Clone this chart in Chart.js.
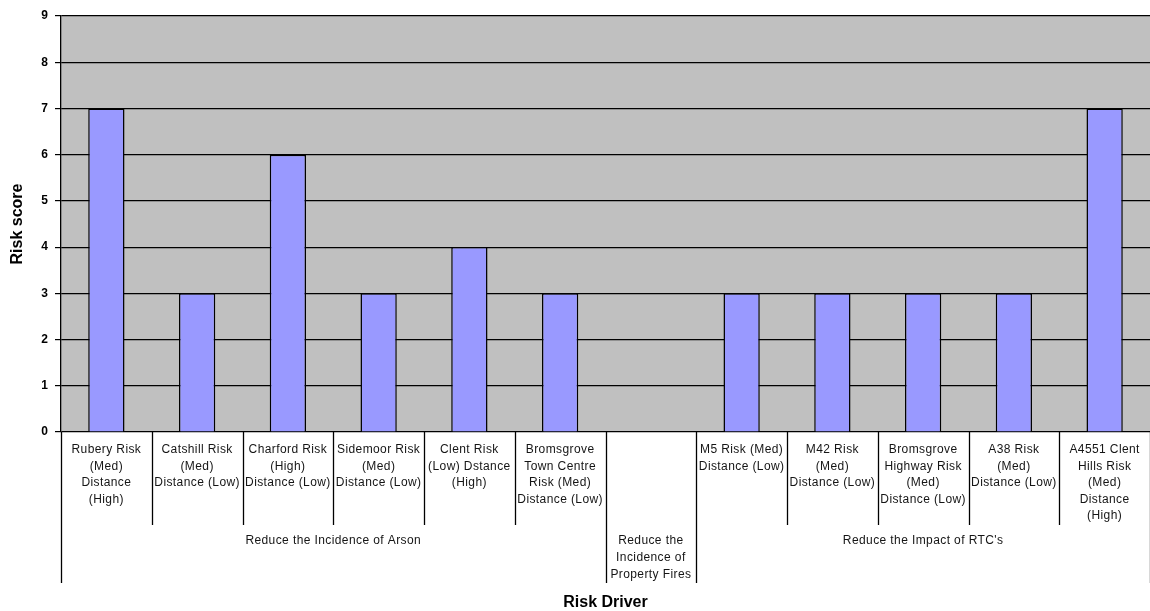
<!DOCTYPE html>
<html>
<head>
<meta charset="utf-8">
<script src="https://cdn.jsdelivr.net/npm/chart.js@4/dist/chart.umd.min.js"></script>
<style>
  html, body { margin: 0; padding: 0; background: #fff; }
  #wrap { width: 1150px; height: 611px; position: relative; }
</style>
</head>
<body>
<div id="wrap"><canvas id="riskChart"></canvas></div>
<script>
"use strict";

// categories (each one a list of text lines)
let categories = [
  ['Rubery Risk', '(Med)', 'Distance', '(High)'],
  ['Catshill Risk', '(Med)', 'Distance (Low)'],
  ['Charford Risk', '(High)', 'Distance (Low)'],
  ['Sidemoor Risk', '(Med)', 'Distance (Low)'],
  ['Clent Risk', '(Low) Dstance', '(High)'],
  ['Bromsgrove', 'Town Centre', 'Risk (Med)', 'Distance (Low)'],
  [''],
  ['M5 Risk (Med)', 'Distance (Low)'],
  ['M42 Risk', '(Med)', 'Distance (Low)'],
  ['Bromsgrove', 'Highway Risk', '(Med)', 'Distance (Low)'],
  ['A38 Risk', '(Med)', 'Distance (Low)'],
  ['A4551 Clent', 'Hills Risk', '(Med)', 'Distance', '(High)']
]
let scores = [7, 3, 6, 3, 4, 3, null, 3, 3, 3, 3, 7]

// groups under the categories
let groupNames = [
  ['Reduce the Incidence of Arson'],
  ['Reduce the', 'Incidence of', 'Property Fires'],
  ["Reduce the Impact of RTC's"]
]
let groupSizes = [6, 1, 5]

let yTicks = [0, 1, 2, 3, 4, 5, 6, 7, 8, 9]

// draws the grey plot background and the two-level category axis
const riskAxis = {
  id: 'riskAxis',
  beforeDraw: function (chart) {
    const a = chart.chartArea, ctx = chart.ctx;
    ctx.save();
    ctx.fillStyle = '#C0C0C0';
    ctx.fillRect(a.left, a.top, a.right - a.left, a.bottom - a.top);
    ctx.restore();
  },
  afterDraw: function (chart) {
    const ctx = chart.ctx, a = chart.chartArea, x = chart.scales.x;
    const n = categories.length;
    const half = (x.getPixelForValue(1) - x.getPixelForValue(0)) / 2;
    const edge = i => (i < n ? x.getPixelForValue(i) - half : x.getPixelForValue(n - 1) + half);

    // which boundaries split groups
    let groupEdges = [0];
    groupSizes.forEach(s => groupEdges.push(groupEdges[groupEdges.length - 1] + s));

    ctx.save();
    ctx.strokeStyle = '#000';
    ctx.lineWidth = 1.3;
    for (let i = 0; i <= n; i++) {
      let px = Math.round(edge(i)) + 0.5;
      let len = groupEdges.includes(i) ? 151 : 93;
      ctx.beginPath();
      ctx.moveTo(px, a.bottom);
      ctx.lineTo(px, a.bottom + len);
      ctx.stroke();
    }

    ctx.fillStyle = '#151515';
    ctx.font = '12px "Liberation Sans", Arial, sans-serif';
    ctx.letterSpacing = '0.4px';
    ctx.textAlign = 'center';
    ctx.textBaseline = 'middle';
    categories.forEach((lines, i) => {
      let cx = x.getPixelForValue(i);
      lines.forEach((t, j) => ctx.fillText(t, cx, a.bottom + 18 + j * 16.5));
    });

    groupNames.forEach((lines, g) => {
      let cx = (edge(groupEdges[g]) + edge(groupEdges[g + 1])) / 2;
      lines.forEach((t, j) => ctx.fillText(t, cx, a.bottom + 109 + j * 16.8));
    });

    ctx.letterSpacing = '0px';
    ctx.font = 'bold 16px "Liberation Sans", Arial, sans-serif';
    ctx.fillStyle = '#000';
    ctx.fillText('Risk Driver', (a.left + a.right) / 2, 603);
    ctx.restore();
  }
};

var riskChart = document.getElementById('riskChart');
new Chart(riskChart, {
  type: 'bar',
  data: {
    labels: categories.map(c => c.join(' ')),
    datasets: [{
      data: scores,
      backgroundColor: '#9999FF',
      borderColor: '#000',
      borderWidth: 1.5,
      categoryPercentage: 1,
      barPercentage: 0.4
    }]
  },
  options: {
    responsive: true,
    maintainAspectRatio: false,
    animation: false,
    layout: {
      padding: { top: 16, right: 0, bottom: 179, left: 0 }
    },
    scales: {
      x: {
        display: false
      },
      y: {
        min: 0,
        max: 9,
        afterBuildTicks: function (scale) {
          scale.ticks = yTicks.map(v => ({ value: v }));
        },
        afterFit: function (scale) {
          scale.width = 61;
        },
        grid: {
          color: '#000',
          lineWidth: 1.2,
          tickLength: 6
        },
        border: { color: '#000', width: 1.3 },
        ticks: {
          color: '#000',
          padding: 7,
          font: { family: '"Liberation Sans", Arial, sans-serif', size: 12, weight: 'bold' }
        },
        title: {
          display: true,
          text: 'Risk score',
          color: '#000',
          padding: { top: 8, bottom: 0 },
          font: { family: '"Liberation Sans", Arial, sans-serif', size: 16, weight: 'bold' }
        }
      }
    },
    plugins: {
      legend: { display: false },
      tooltip: { enabled: false }
    }
  },
  plugins: [riskAxis]
});
</script>
</body>
</html>
